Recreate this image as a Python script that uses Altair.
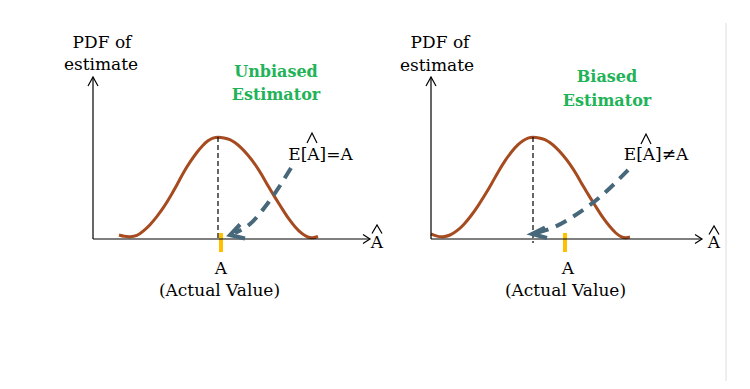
import altair as alt
import pandas as pd

# Coordinate system of the diagram: x to the right, y downward
X_DOMAIN = [8, 742]
Y_DOMAIN = [8, 381]

# ---- PDF curves ----
left_curve_x = [119, 124, 130, 137, 143, 150, 157, 164, 170, 177, 183, 190, 197, 203, 208, 213, 218,
                224, 230, 235, 241, 248, 255, 262, 268, 275, 282, 288, 295, 302, 308, 313, 318]
left_curve_y = [235, 236.5, 237, 236, 231.5, 225, 216.5, 207, 197, 185, 173, 162, 152, 145, 140.5, 137.8, 137,
                137.8, 139.5, 142.5, 147.5, 155, 164, 175, 186, 197.5, 208.5, 218, 227, 234, 237.5, 238, 236.5]
right_curve_x = [431, 437, 443, 450, 457, 464, 471, 478, 485, 492, 498, 505, 512, 518, 523, 528, 533,
                 539, 545, 550, 556, 563, 570, 577, 583, 590, 597, 603, 610, 616, 621, 626, 630]
right_curve_y = [234, 236.5, 237, 235.5, 231, 224.5, 216, 206, 195, 183, 172, 160.5, 151, 144.5, 140.5, 137.8, 137,
                 137.8, 139.5, 142.5, 147.5, 155, 164, 175, 186, 197.5, 208.5, 218, 227, 233.5, 237, 238, 237]

# ---- thin black polylines: axes, axis arrow heads, hats ----
black_id = ["Ly", "Ly", "Lx", "Lx", "Ry", "Ry", "Rx", "Rx",
            "Lya", "Lya", "Lya", "Lxa", "Lxa", "Lxa", "Rya", "Rya", "Rya", "Rxa", "Rxa", "Rxa",
            "hL", "hL", "hL", "hR", "hR", "hR", "hEL", "hEL", "hEL", "hER", "hER", "hER"]
black_x = [93, 93, 93, 370, 431, 431, 431, 702,
           88, 93, 98, 363, 370, 363, 426, 431, 436, 695, 702, 695,
           372, 377, 382, 709, 714, 719, 307, 312, 317, 641, 646, 651]
black_y = [77, 239, 239, 239, 77, 239, 239, 239,
           86, 77, 86, 234.5, 239, 243.5, 86, 77, 86, 234.5, 239, 243.5,
           233.5, 225, 233.5, 234.5, 226, 234.5, 143, 133, 143, 144, 134, 144]

# ---- dashed black guides at the mean ----
guide_id = ["L", "L", "R", "R"]
guide_x = [218, 218, 533, 533]
guide_y = [137, 239, 137, 243]

# ---- dashed slate arrows (E[A] pointers) ----
arrow_id = ["L"] * 4 + ["R"] * 5
arrow_x = [291, 268, 250, 235, 628, 600, 574, 552, 536]
arrow_y = [168, 203, 224, 233, 170, 197, 216, 228, 233]
head_id = ["L", "L", "L", "R", "R", "R"]
head_x = [240, 230, 245, 545, 532, 547]
head_y = [224.5, 235, 238.5, 227.5, 234, 238]

# ---- orange ticks marking the actual value A ----
tick_id = ["L", "L", "R", "R"]
tick_x = [221, 221, 565, 565]
tick_y = [233, 252, 233, 252]

# ---- separator on the right edge ----
sep_x = [726, 726]
sep_y = [23, 381]

# ---- texts ----
black_text = ["PDF of", "estimate", "PDF of", "estimate", "E[A]=A", "E[A]≠A",
              "A", "(Actual Value)", "A", "(Actual Value)", "A", "A"]
black_text_x = [102, 101, 440, 437, 320.5, 656, 221, 219.5, 568, 565.5, 377, 714]
black_text_y = [43, 65, 43, 66, 154.5, 155, 269, 291, 269, 291, 242.5, 243]
green_text = ["Unbiased", "Estimator", "Biased", "Estimator"]
green_text_x = [276, 276, 607, 607]
green_text_y = [72, 95, 77, 101]

xs = alt.Scale(domain=X_DOMAIN, nice=False, zero=False)
ys = alt.Scale(domain=Y_DOMAIN, nice=False, zero=False, reverse=True)
X = alt.X("x:Q", scale=xs, axis=None)
Y = alt.Y("y:Q", scale=ys, axis=None)


def poly(ids, x, y):
    return pd.DataFrame({"id": ids, "x": x, "y": y, "o": list(range(len(x)))})


curves = pd.concat([
    pd.DataFrame({"id": "L", "x": left_curve_x, "y": left_curve_y}),
    pd.DataFrame({"id": "R", "x": right_curve_x, "y": right_curve_y}),
], ignore_index=True)
curves["o"] = range(len(curves))

enc = dict(x=X, y=Y, detail="id:N", order="o:Q")

curve_layer = alt.Chart(curves).mark_line(
    color="#A64B1F", strokeWidth=3, interpolate="basis").encode(**enc)
black_layer = alt.Chart(poly(black_id, black_x, black_y)).mark_line(
    color="#000000", strokeWidth=1.2).encode(**enc)
guide_layer = alt.Chart(poly(guide_id, guide_x, guide_y)).mark_line(
    color="#000000", strokeWidth=1.2, strokeDash=[5, 3]).encode(**enc)
arrow_layer = alt.Chart(poly(arrow_id, arrow_x, arrow_y)).mark_line(
    color="#47677A", strokeWidth=4, strokeDash=[12, 8], interpolate="monotone").encode(**enc)
head_layer = alt.Chart(poly(head_id, head_x, head_y)).mark_line(
    color="#47677A", strokeWidth=4, strokeJoin="miter").encode(**enc)
tick_layer = alt.Chart(poly(tick_id, tick_x, tick_y)).mark_line(
    color="#FFC000", strokeWidth=4).encode(**enc)
sep_layer = alt.Chart(poly(["s", "s"], sep_x, sep_y)).mark_line(
    color="#EEEEEE", strokeWidth=2).encode(**enc)

bt = pd.DataFrame({"t": black_text, "x": black_text_x, "y": black_text_y})
gt = pd.DataFrame({"t": green_text, "x": green_text_x, "y": green_text_y})
black_text_layer = alt.Chart(bt).mark_text(
    font="DejaVu Serif", fontSize=17, color="#000000", align="center", baseline="middle"
).encode(x=X, y=Y, text="t:N")
green_text_layer = alt.Chart(gt).mark_text(
    font="DejaVu Serif", fontSize=16, fontWeight="bold", color="#21B357", align="center", baseline="middle"
).encode(x=X, y=Y, text="t:N")

chart = alt.layer(
    sep_layer, curve_layer, guide_layer, tick_layer, black_layer,
    arrow_layer, head_layer, black_text_layer, green_text_layer
).properties(
    width=734, height=373, padding=0, autosize="none", background="#FFFFFF"
).configure_view(stroke=None)

chart.save("out.html", embed_options={"renderer": "svg", "actions": False})
